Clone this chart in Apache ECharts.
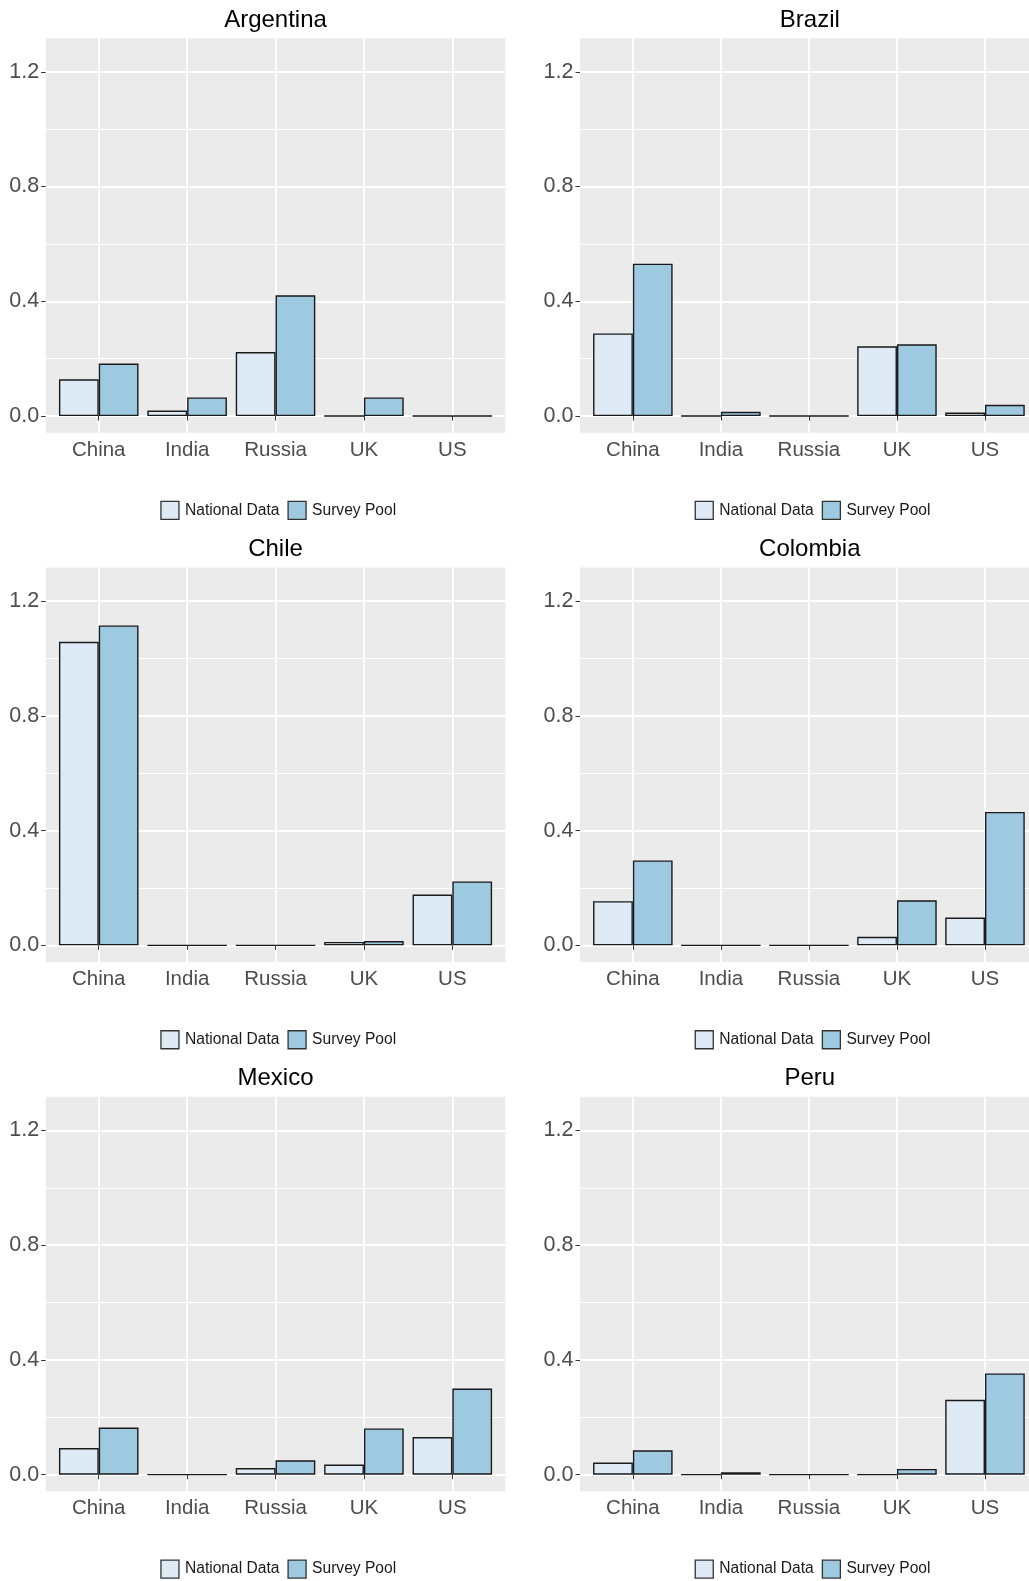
<!DOCTYPE html>
<html>
<head>
<meta charset="utf-8">
<script src="https://cdn.jsdelivr.net/npm/echarts@6/dist/echarts.min.js"></script>
<style>
html,body{margin:0;padding:0;background:#fff;}
#chart{width:1029px;height:1581px;}
</style>
</head>
<body>
<div id="chart"></div>
<script>
// ---- data ----
const categories = ['China', 'India', 'Russia', 'UK', 'US'];
const countries = ['Argentina', 'Brazil', 'Chile', 'Colombia', 'Mexico', 'Peru'];
const seriesNames = ['National Data', 'Survey Pool'];
const yTicks = [0, 0.4, 0.8, 1.2];
const yMinorTicks = [0.2, 0.6, 1.0];

const nationalArgentina = [0.128, 0.019, 0.223, 0, 0];
const surveyArgentina   = [0.183, 0.065, 0.421, 0.065, 0];
const nationalBrazil    = [0.288, 0, 0, 0.243, 0.012];
const surveyBrazil      = [0.531, 0.015, 0, 0.250, 0.039];
const nationalChile     = [1.058, 0, 0, 0.012, 0.177];
const surveyChile       = [1.115, 0, 0, 0.015, 0.223];
const nationalColombia  = [0.154, 0, 0, 0.030, 0.097];
const surveyColombia    = [0.296, 0, 0, 0.157, 0.465];
const nationalMexico    = [0.093, 0, 0.023, 0.035, 0.131];
const surveyMexico      = [0.164, 0, 0.050, 0.161, 0.300];
const nationalPeru      = [0.042, 0, 0, 0, 0.261];
const surveyPeru        = [0.085, 0.008, 0, 0.020, 0.353];

const panelData = {
  Argentina: [nationalArgentina, surveyArgentina],
  Brazil: [nationalBrazil, surveyBrazil],
  Chile: [nationalChile, surveyChile],
  Colombia: [nationalColombia, surveyColombia],
  Mexico: [nationalMexico, surveyMexico],
  Peru: [nationalPeru, surveyPeru]
};

// ---- layout / style ----
const FONT = '"Liberation Sans", Arial, sans-serif';
const colors = ['#DEEBF7', '#9ECAE1'];
const Y_MIN = -0.058, Y_MAX = 1.317;
const PANEL_L = 45.7, PANEL_T = 38.2, PANEL_W = 459.6, PANEL_H = 394.5;
const STEP = 88.4;
const COL_OFF = 534.3, ROW_OFF = 529.3;

const grid = [], xAxis = [], yAxis = [], series = [], legend = [], graphic = [];

countries.forEach((name, p) => {
  const c = p % 2, r = Math.floor(p / 2);
  const ox = c * COL_OFF, oy = r * ROW_OFF;
  // background grid (panel)
  const gA = grid.length;
  grid.push({left: PANEL_L + ox, top: PANEL_T + oy, width: PANEL_W, height: PANEL_H,
    show: true, backgroundColor: '#EBEBEB', borderWidth: 0, containLabel: false});
  // bar grid (category bands)
  const gB = grid.length;
  const catLeft = PANEL_L + 0.6 * STEP - STEP / 2;
  grid.push({left: catLeft + ox, top: PANEL_T + oy, width: STEP * 5, height: PANEL_H, containLabel: false});

  // grid A axes
  const xA = xAxis.length;
  xAxis.push({type: 'value', gridIndex: gA, min: 0, max: 1, show: false});
  const yA1 = yAxis.length;
  yAxis.push({type: 'value', gridIndex: gA, min: Y_MIN, max: Y_MAX,
    axisLine: {show: false},
    axisTick: {show: true, length: 4.5, customValues: yTicks, lineStyle: {color: '#333333', width: 1}},
    axisLabel: {show: true, customValues: yTicks, margin: 6.5, color: '#4D4D4D', fontSize: 21.5, fontFamily: FONT,
      formatter: v => v.toFixed(1)},
    splitLine: {show: true, lineStyle: {color: '#FFFFFF', width: 1.8}}
  });
  const yA2 = yAxis.length;
  yAxis.push({type: 'value', gridIndex: gA, min: Y_MIN, max: Y_MAX,
    axisLine: {show: false},
    axisTick: {show: false, customValues: yMinorTicks},
    axisLabel: {show: false, customValues: yMinorTicks},
    splitLine: {show: true, lineStyle: {color: '#FFFFFF', width: 1.0}}
  });
  // empty series binding grid A axes
  series.push({type: 'line', xAxisIndex: xA, yAxisIndex: yA1, data: [], silent: true});
  series.push({type: 'line', xAxisIndex: xA, yAxisIndex: yA2, data: [], silent: true});

  // grid B axes
  const xB = xAxis.length;
  xAxis.push({type: 'category', gridIndex: gB, data: categories, boundaryGap: true,
    axisLine: {show: false},
    axisTick: {show: true, alignWithLabel: true, length: 4.5, lineStyle: {color: '#333333', width: 1}},
    axisLabel: {show: true, margin: 7, color: '#4D4D4D', fontSize: 20.5, fontFamily: FONT, interval: 0},
    splitLine: {show: true, alignWithLabel: true, interval: 0, lineStyle: {color: '#FFFFFF', width: 1.8}}
  });
  const yB = yAxis.length;
  yAxis.push({type: 'value', gridIndex: gB, min: Y_MIN, max: Y_MAX, show: false, splitLine: {show: false}});

  const d = panelData[name];
  seriesNames.forEach((sn, k) => {
    series.push({
      type: 'bar', name: sn, xAxisIndex: xB, yAxisIndex: yB,
      data: d[k], barWidth: 0.45 * STEP, barGap: '0%',
      itemStyle: {color: colors[k], borderColor: '#1A1A1A', borderWidth: 1.4},
      emphasis: {disabled: true},
      animation: false
    });
  });

  legend.push({
    data: seriesNames, left: 160.3 + ox, top: 500.8 + oy, orient: 'horizontal',
    padding: 0, itemWidth: 18, itemHeight: 18, itemGap: 8, icon: 'rect',
    itemStyle: {borderColor: '#333333', borderWidth: 1.3},
    textStyle: {fontSize: 15.6, color: '#1A1A1A', fontFamily: FONT, padding: [0, 0, 0, 1]},
    selectedMode: false
  });

  graphic.push({type: 'text', x: PANEL_L + PANEL_W / 2 + ox, y: 20 + oy,
    style: {text: name, font: '24px ' + FONT, fill: '#000000', align: 'center', verticalAlign: 'middle'}});
});

const chart = echarts.init(document.getElementById('chart'), null, {renderer: 'canvas'});
chart.setOption({
  animation: false,
  backgroundColor: '#FFFFFF',
  grid, xAxis, yAxis, series, legend, graphic
});
</script>
</body>
</html>
